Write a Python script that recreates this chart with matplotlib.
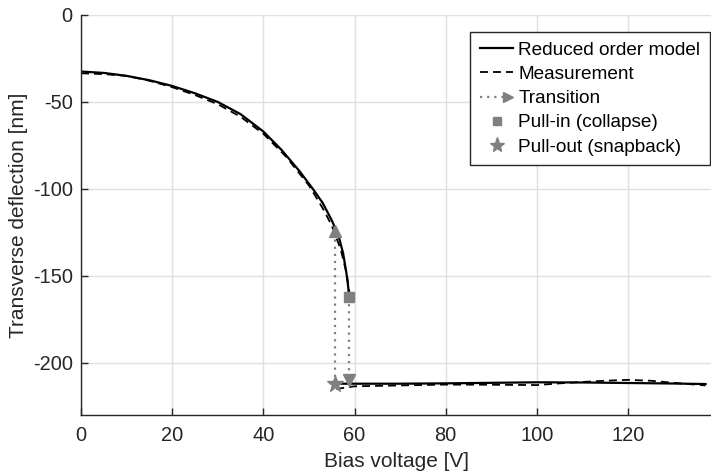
import matplotlib
matplotlib.use("Agg")
import matplotlib.pyplot as plt
from matplotlib.lines import Line2D
from matplotlib.legend_handler import HandlerBase

plt.rcParams['font.family'] = ['Liberation Sans', 'DejaVu Sans']
plt.rcParams['axes.unicode_minus'] = False

# Reduced order model: stable upper branch up to pull-in, then collapsed branch
model_up_v = [0, 5, 10, 15, 20, 25, 30, 35, 40, 44, 48, 51, 53, 55, 56.5, 57.5, 58.2, 58.6, 58.8]
model_up_w = [-32.5, -33.3, -35.0, -37.5, -40.8, -45.0, -50.0, -57.0, -67.0, -77.6, -90.0,
              -100.5, -108.0, -118.0, -127.0, -137.0, -148.0, -156.0, -162.0]
model_down_v = [56, 70, 80, 90, 100, 110, 120, 130, 137]
model_down_w = [-212.0, -212.0, -211.8, -211.5, -211.2, -211.3, -211.6, -211.9, -212.2]

# Measured deflection
meas_up_v = [0, 5, 10, 15, 20, 25, 30, 35, 40, 45, 50, 53, 55, 57, 58.3, 58.9]
meas_up_w = [-33.5, -34.0, -35.0, -37.8, -41.5, -46.0, -51.3, -58.5, -68.3, -81.5, -98.0,
             -111.0, -121.0, -135.0, -149.0, -160.0]
meas_down_v = [56, 60, 70, 80, 90, 100, 105, 110, 115, 120, 125, 130, 137]
meas_down_w = [-215.0, -213.5, -213.0, -212.5, -212.6, -212.8, -211.8, -211.0, -210.3, -209.8,
               -210.3, -211.5, -213.0]

# Pull-in (collapse) and pull-out (snapback) points
pull_in_v, pull_in_w, pull_in_land = 58.8, -162.0, -210.0
pull_out_v, pull_out_w, pull_out_land = 55.7, -212.0, -124.0

grey = '#808080'
ink = '#262626'
dotted = (0, (1, 2.2))
dashed = (0, (4.4, 2.8))


class ArrowLegendHandler(HandlerBase):
    """Dotted line with an arrow head at its right end."""

    def create_artists(self, legend, orig_handle, xdescent, ydescent,
                       width, height, fontsize, trans):
        y = (height - ydescent) / 2.0
        x0, x1 = -xdescent, width - xdescent
        line = Line2D([x0, x1 - 6], [y, y], color=grey, lw=1.6, ls=dotted)
        head = Line2D([x1 - 4], [y], marker='>', color=grey, ms=7, ls='none')
        line.set_transform(trans)
        head.set_transform(trans)
        return [line, head]


fig = plt.figure(figsize=(7.11, 4.76), dpi=100)
ax = fig.add_axes([81 / 711, 1 - 415 / 476, (711 - 81) / 711, (415 - 15) / 476])

ax.grid(True, color='#e0e0e0', linewidth=1.0)
ax.set_axisbelow(True)

ax.plot(model_up_v, model_up_w, color='black', lw=1.6)
ax.plot(model_down_v, model_down_w, color='black', lw=1.6)
ax.plot(meas_up_v, meas_up_w, color='black', lw=1.3, ls=dashed)
ax.plot(meas_down_v, meas_down_w, color='black', lw=1.3, ls=dashed)

# Transitions
ax.plot([pull_in_v, pull_in_v], [pull_in_w, pull_in_land], color=grey, lw=1.6, ls=dotted)
ax.plot([pull_in_v], [pull_in_land], marker='v', color=grey, ms=8, ls='none')
ax.plot([pull_out_v, pull_out_v], [pull_out_w, pull_out_land], color=grey, lw=1.6, ls=dotted)
ax.plot([pull_out_v], [pull_out_land], marker='^', color=grey, ms=8, ls='none')

ax.plot([pull_in_v], [pull_in_w], marker='s', color=grey, ms=7, ls='none')
ax.plot([pull_out_v], [pull_out_w], marker='*', color=grey, ms=12, ls='none')

ax.set_xlim(0, 138.2)
ax.set_ylim(-230, 0)
ax.set_xticks([0, 20, 40, 60, 80, 100, 120])
ax.set_yticks([0, -50, -100, -150, -200])
ax.tick_params(direction='in', length=5, width=1, colors=ink, labelsize=14.4)
ax.tick_params(axis='x', pad=8)
ax.tick_params(axis='y', pad=6)
for side in ('top', 'right'):
    ax.spines[side].set_visible(False)
for side in ('left', 'bottom'):
    ax.spines[side].set_color(ink)
    ax.spines[side].set_linewidth(1.0)

ax.set_xlabel('Bias voltage [V]', fontsize=15, color=ink, labelpad=5)
ax.set_ylabel('Transverse deflection [nm]', fontsize=15, color=ink, labelpad=3)

transition_handle = Line2D([], [], color=grey)
handles = [
    Line2D([], [], color='black', lw=1.6),
    Line2D([], [], color='black', lw=1.3, ls=dashed),
    transition_handle,
    Line2D([], [], color=grey, marker='s', ls='none', ms=6),
    Line2D([], [], color=grey, marker='*', ls='none', ms=11),
]
labels = ['Reduced order model', 'Measurement', 'Transition',
          'Pull-in (collapse)', 'Pull-out (snapback)']
leg = fig.legend(handles, labels, loc='upper right', bbox_to_anchor=(710 / 711, 1 - 32 / 476),
                 fontsize=13.7, frameon=True, fancybox=False, framealpha=1,
                 edgecolor=ink, handlelength=1.75, handletextpad=0.28,
                 labelspacing=0.36, borderpad=0.5, borderaxespad=0,
                 handler_map={transition_handle: ArrowLegendHandler()})
leg.get_frame().set_linewidth(1.0)

fig.savefig('out.png', dpi=100)
